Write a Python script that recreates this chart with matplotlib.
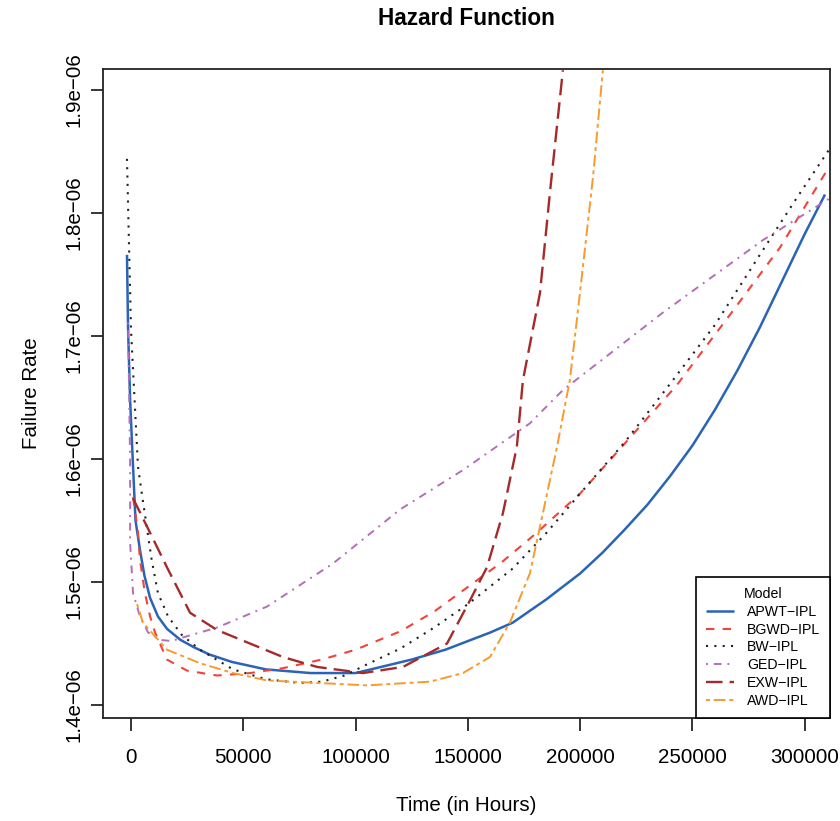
import matplotlib
matplotlib.use("Agg")
import matplotlib.pyplot as plt
import numpy as np

plt.rcParams['font.family'] = ['Liberation Sans', 'DejaVu Sans']

# curvas (tiempo en horas, tasa en 1e-06)
apwt_t = [-1800, -1300, -400, 900, 2000, 4000, 6000, 8500, 12000, 16000, 22000, 28000, 35000,
          45000, 60000, 80000, 100000, 125000, 140000, 150000, 160000, 170000, 185000,
          200000, 210000, 220000, 230000, 240000, 250000, 260000, 270000, 280000, 290000,
          300000, 309000]
apwt_h = [1.766, 1.705, 1.648, 1.594, 1.550, 1.526, 1.505, 1.487, 1.472, 1.462, 1.453, 1.447, 1.441,
          1.435, 1.429, 1.426, 1.426, 1.437, 1.445, 1.452, 1.459, 1.467, 1.486,
          1.507, 1.524, 1.543, 1.563, 1.586, 1.611, 1.640, 1.672, 1.707, 1.745,
          1.783, 1.815]

bgwd_t = [900, 3000, 4000, 6200, 8500, 10700, 16000, 24900, 38300, 53000, 67700, 85000,
          100000, 120000, 135000, 150000, 165000, 180000, 200000, 222000, 243000, 267000,
          289000, 299000, 310000]
bgwd_h = [1.569, 1.542, 1.518, 1.491, 1.472, 1.459, 1.437, 1.428, 1.424, 1.426, 1.430, 1.437,
          1.445, 1.460, 1.476, 1.496, 1.516, 1.539, 1.572, 1.617, 1.660, 1.718,
          1.772, 1.802, 1.835]

bw_t = [-1800, 0, 3100, 4800, 7000, 9200, 12000, 16500, 22600, 30700, 45400, 60000, 75000,
        85000, 95000, 105000, 120000, 135000, 150000, 170000, 185000, 200000, 220000,
        240000, 260000, 280000, 296000, 311000]
bw_h = [1.844, 1.705, 1.594, 1.572, 1.545, 1.518, 1.491, 1.472, 1.457, 1.445, 1.429, 1.421, 1.418,
        1.419, 1.424, 1.433, 1.446, 1.463, 1.482, 1.511, 1.540, 1.572, 1.614,
        1.661, 1.709, 1.766, 1.811, 1.852]

ged_t = [-1300, -400, -400, 900, 4000, 7600, 12900, 18000, 23200, 38300, 60500, 89900, 119800,
         147800, 177600, 192300, 236800, 281400, 311200]
ged_h = [1.711, 1.599, 1.532, 1.491, 1.472, 1.459, 1.453, 1.452, 1.455, 1.463, 1.480, 1.515, 1.559,
         1.591, 1.629, 1.656, 1.719, 1.778, 1.812]

exw_t = [900, 8500, 16000, 26300, 38300, 53000, 67700, 82800, 103300, 121100, 140700,
         150900, 158500, 165600, 171800, 174500, 182100, 186500, 192300]
exw_h = [1.568, 1.540, 1.512, 1.475, 1.461, 1.450, 1.439, 1.431, 1.426, 1.431, 1.450,
         1.485, 1.512, 1.556, 1.610, 1.664, 1.735, 1.816, 1.916]

awd_t = [2700, 5300, 16000, 30700, 45400, 60500, 82800, 105100, 133100, 147800, 159800,
         168700, 177600, 183400, 189700, 195400, 199900, 205700, 210100]
awd_h = [1.482, 1.467, 1.445, 1.434, 1.426, 1.420, 1.418, 1.416, 1.419, 1.426, 1.439,
         1.467, 1.507, 1.556, 1.610, 1.664, 1.735, 1.829, 1.916]

modelos = ["APWT\u2212IPL", "BGWD\u2212IPL", "BW\u2212IPL", "GED\u2212IPL", "EXW\u2212IPL", "AWD\u2212IPL"]
colores = ["#2A64B8", "#F0443A", "#222222", "#B46EB8", "#A52A2A", "#F89A2C"]
estilos = [(0, ()), (0, (4, 4)), (0, (1, 3)), (0, (1, 3, 4, 3)), (0, (7, 3)), (0, (2, 2, 6, 2))]
grosor = [1.8, 1.5, 1.5, 1.4, 1.7, 1.4]

fig = plt.figure(figsize=(8.4, 8.21), dpi=100)
ax = fig.add_axes([0.123, 0.1258, 0.865, 0.7898])

datos = [(apwt_t, apwt_h), (bgwd_t, bgwd_h), (bw_t, bw_h), (ged_t, ged_h), (exw_t, exw_h), (awd_t, awd_h)]
for (t, h), nombre, c, ls, lw in zip(datos, modelos, colores, estilos, grosor):
    ax.plot(t, np.array(h) * 1e-6, color=c, linestyle=ls, lw=lw, label=nombre)

ax.set_xlim(-12330, 311200)
ax.set_ylim(1.3897e-6, 1.9168e-6)

xt = [0, 50000, 100000, 150000, 200000, 250000, 300000]
ax.set_xticks(xt)
ax.set_xticklabels([str(v) for v in xt], fontsize=14.8)
yt = [1.4e-6, 1.5e-6, 1.6e-6, 1.7e-6, 1.8e-6, 1.9e-6]
ax.set_yticks(yt)
ax.set_yticklabels(["1.4e\u221206", "1.5e\u221206", "1.6e\u221206", "1.7e\u221206", "1.8e\u221206", "1.9e\u221206"],
                   fontsize=14.8, rotation=90, va='center')
ax.tick_params(axis='both', direction='out', length=9, width=1.1)
ax.tick_params(axis='x', pad=13)
ax.tick_params(axis='y', pad=5)

for s in ax.spines.values():
    s.set_linewidth(1.3)
    s.set_color("#222222")

ax.set_title("Hazard Function", fontsize=16.3, fontweight='bold', pad=32)
ax.set_xlabel("Time (in Hours)", fontsize=14.8, labelpad=21)
ax.set_ylabel("Failure Rate", fontsize=14.8, labelpad=17)

leg = ax.legend(loc='lower right', title="Model", fontsize=10.2, title_fontsize=10.2,
                borderaxespad=0, fancybox=False, framealpha=1, edgecolor='black',
                handlelength=2.0, handletextpad=0.9, labelspacing=0.27, borderpad=0.7)
leg.get_frame().set_linewidth(1.2)

plt.savefig("out.png", dpi=100)
